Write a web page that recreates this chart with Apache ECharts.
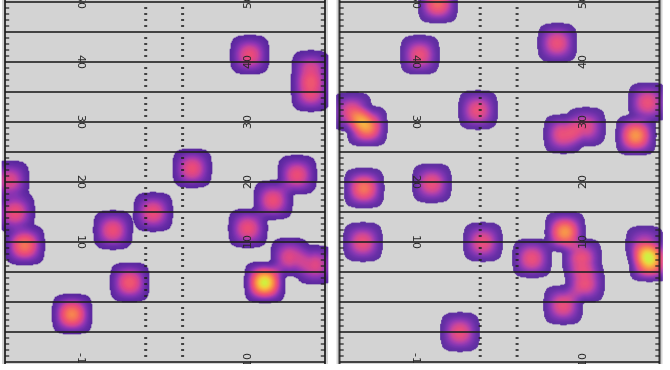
<!DOCTYPE html>
<html><head><meta charset="utf-8">
<script src="https://cdn.jsdelivr.net/npm/echarts@6.0.0/dist/echarts.min.js"></script>
<style>html,body{margin:0;padding:0;background:#fff}#c{width:670px;height:370px}</style>
</head><body><div id="c"></div>
<script>
// Play locations: x = yards from the left sideline, y = yards past the line of scrimmage, w = weight
const leftX = [40.8, 51.0, 51.0, 31.2, 48.7, 44.7, 40.5, 47.5, 51.7, 43.3, 0.8, 1.7, 3.3, 18.0, 24.7, 20.8, 11.2];
const leftY = [41.2, 38.7, 35.0, 22.3, 21.2, 17.0, 12.3, 7.5, 6.2, 3.3, 20.3, 15.0, 9.5, 12.0, 15.0, 3.3, -2.0];
const leftW = [1.0, 0.9, 1.0, 1.0, 1.0, 1.0, 1.0, 0.9, 0.9, 2.0, 0.9, 1.0, 1.3, 1.0, 1.0, 1.1, 1.4];

const rightX = [16.4, 13.4, 36.3, 2.1, 4.6, 23.1, 37.3, 41.1, 51.4, 49.4, 4.1, 15.4, 3.9, 23.9, 37.6, 32.1, 40.4, 40.9, 37.3, 50.9, 51.7, 20.1];
const rightY = [49.8, 41.2, 43.2, 31.7, 29.3, 32.0, 28.0, 29.2, 33.3, 27.8, 19.0, 19.8, 10.0, 10.0, 11.7, 7.3, 7.3, 3.2, -0.5, 9.5, 6.8, -5.0];
const rightW = [1.2, 1.0, 1.0, 1.0, 1.5, 1.0, 1.0, 0.9, 1.0, 1.5, 1.3, 1.0, 1.0, 1.0, 1.5, 1.0, 1.0, 1.0, 1.0, 0.8, 1.8, 1.0];

// Field markings
const yardLines = [-10, -5, 0, 5, 10, 15, 20, 25, 30, 35, 40, 45, 50];
const numberYards = [50, 40, 30, 20, 10, -10];
const numberLabels = ['50', '40', '30', '20', '10', '-10'];
const plasmaColors = ['#5a2a9e','#6a2ea8','#8234b2','#a53bb0','#cc4598','#e64a80','#f05a6e','#f5745a','#f8904a','#f9ae42','#eed23e','#d0f040'];

const FIELD_W = 160 / 3;
const XMIN = -0.5, XMAX = FIELD_W + 0.5;
const YMIN = -31 / 3, YMAX = 151 / 3;
const CELL = 1 / 6;
const NX = Math.round((XMAX - XMIN) / CELL);
const NY = Math.round((YMAX - YMIN) / CELL);
const BW = 3.75, THRESH = 0.06;
const HASH_L = 23.45, HASH_R = 29.6;
const NUM_L = 12.7, NUM_R = 40.6;

function kern(u) { u = Math.abs(u); if (u >= 1) return 0; const t = 1 - u * u; return t * t; }
function density(xs, ys, ws) {
  const out = [];
  for (let j = 0; j < NY; j++) {
    const y = YMIN + (j + 0.5) * CELL;
    for (let i = 0; i < NX; i++) {
      const x = XMIN + (i + 0.5) * CELL;
      let d = 0;
      for (let k = 0; k < xs.length; k++) {
        const ky = kern((y - ys[k]) / BW);
        if (ky === 0) continue;
        d += ws[k] * kern((x - xs[k]) / BW) * ky;
      }
      if (d > THRESH) out.push([i, j, d]);
    }
  }
  return out;
}
const xCats = Array.from({length: NX}, (_, i) => i);
const yCats = Array.from({length: NY}, (_, i) => i);
const tickYards = [];
for (let y = -10; y <= 50; y++) if (y % 5 !== 0) tickYards.push([0, y]);

const panels = [{left: 2, xs: leftX, ys: leftY, ws: leftW}, {left: 336.5, xs: rightX, ys: rightY, ws: rightW}];
const grid = [], xAxis = [], yAxis = [], series = [];
const lineCol = 'rgba(30,30,30,0.8)';
panels.forEach((p, pi) => {
  const gF = grid.length;
  grid.push({left: p.left, top: 0, width: 326, height: 364, show: true, backgroundColor: '#d3d3d3', borderWidth: 0});
  grid.push({left: p.left, top: 0, width: 326, height: 364});
  xAxis.push({type: 'value', gridIndex: gF, min: XMIN, max: XMAX, show: false});
  yAxis.push({type: 'value', gridIndex: gF, min: YMIN, max: YMAX, show: false});
  xAxis.push({type: 'category', gridIndex: gF + 1, data: xCats, show: false});
  yAxis.push({type: 'category', gridIndex: gF + 1, data: yCats, show: false});
  const ax = {xAxisIndex: gF, yAxisIndex: gF};
  series.push({
    type: 'heatmap', xAxisIndex: gF + 1, yAxisIndex: gF + 1, data: density(p.xs, p.ys, p.ws),
    progressive: 0, silent: true, z: 2
  });
  series.push(Object.assign({
    type: 'custom', clip: true, silent: true, z: 3, data: yardLines.map(v => [0, v]), encode: {x: 0, y: 1},
    renderItem(params, api) {
      const y = api.value(1), a = api.coord([0, y]), b = api.coord([FIELD_W, y]);
      return {type: 'line', shape: {x1: a[0], y1: a[1], x2: b[0], y2: b[1]}, style: {stroke: lineCol, lineWidth: 2}};
    }
  }, ax));
  series.push(Object.assign({
    type: 'custom', clip: true, silent: true, z: 3, data: [[0, 0], [FIELD_W, 0]], encode: {x: 0, y: 1},
    renderItem(params, api) {
      const x = api.value(0), a = api.coord([x, YMIN]), b = api.coord([x, YMAX]);
      return {type: 'line', shape: {x1: a[0], y1: a[1], x2: b[0], y2: b[1]}, style: {stroke: 'rgba(25,25,25,0.85)', lineWidth: 2}};
    }
  }, ax));
  series.push(Object.assign({
    type: 'custom', clip: true, silent: true, z: 3, data: tickYards, encode: {x: 0, y: 1},
    renderItem(params, api) {
      const y = api.value(1);
      const seg = (x1, x2, w) => {
        const a = api.coord([x1, y]), b = api.coord([x2, y]);
        return {type: 'line', shape: {x1: a[0], y1: a[1], x2: b[0], y2: b[1]}, style: {stroke: lineCol, lineWidth: w}};
      };
      return {type: 'group', children: [
        seg(0, 0.7, 1.5), seg(FIELD_W - 0.7, FIELD_W, 1.5),
        seg(HASH_L - 0.25, HASH_L + 0.25, 2), seg(HASH_R - 0.25, HASH_R + 0.25, 2)
      ]};
    }
  }, ax));
  series.push(Object.assign({
    type: 'custom', clip: true, silent: true, z: 4, data: numberYards.map(v => [0, v]), encode: {x: 0, y: 1},
    renderItem(params, api) {
      const y = api.value(1), lab = numberLabels[params.dataIndex];
      const a = api.coord([NUM_L, y]), b = api.coord([NUM_R, y]);
      const st = {text: lab, fill: '#2a2a2a', font: '11px "DejaVu Sans", sans-serif', align: 'center', verticalAlign: 'middle'};
      return {type: 'group', children: [
        {type: 'text', x: a[0], y: a[1], rotation: -Math.PI / 2, style: Object.assign({}, st)},
        {type: 'text', x: b[0], y: b[1], rotation: Math.PI / 2, style: Object.assign({}, st)}
      ]};
    }
  }, ax));
});

const chart = echarts.init(document.getElementById('c'), null, {renderer: 'canvas'});
chart.setOption({
  animation: false,
  backgroundColor: '#ffffff',
  grid, xAxis, yAxis,
  visualMap: {type: 'continuous', show: false, min: THRESH, max: 2.0, dimension: 2,
    seriesIndex: series.map((s, i) => s.type === 'heatmap' ? i : -1).filter(i => i >= 0),
    inRange: {color: plasmaColors}},
  series
});
</script></body></html>
